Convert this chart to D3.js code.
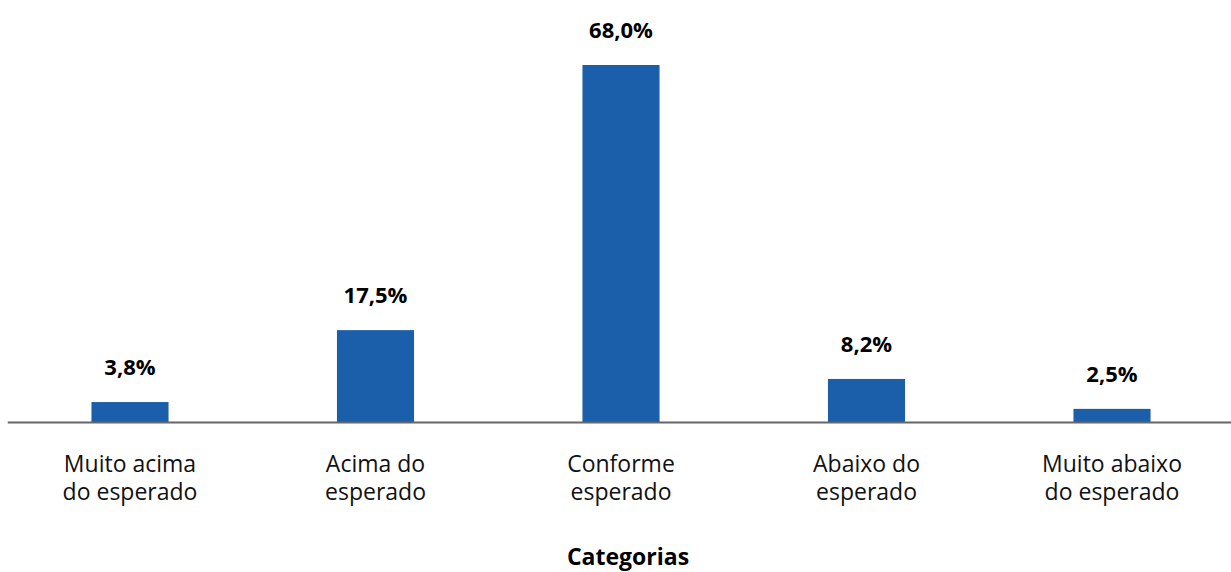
<!DOCTYPE html>
<html>
<head>
<meta charset="utf-8">
<script src="https://cdn.jsdelivr.net/npm/d3@7"></script>
<style>
  body { margin: 0; background: #fff; }
  text { font-family: "Open Sans", "Noto Sans", sans-serif; }
</style>
</head>
<body>
<div id="chart"></div>
<script>
// categories (two lines each) and percentages
const categories = ["Muito acima do esperado", "Acima do esperado", "Conforme esperado", "Abaixo do esperado", "Muito abaixo do esperado"];
const categoryLines = [["Muito acima", "do esperado"], ["Acima do", "esperado"], ["Conforme", "esperado"], ["Abaixo do", "esperado"], ["Muito abaixo", "do esperado"]];
const values = [3.8, 17.5, 68.0, 8.2, 2.5];
const valueLabels = ["3,8%", "17,5%", "68,0%", "8,2%", "2,5%"];
const axisTitle = "Categorias";

const width = 1231, height = 572;
const baseY = 422;

let svg = d3.select("#chart")
  .append("svg")
  .attr("width", width)
  .attr("height", height);

let x = d3.scaleBand()
  .domain(categories)
  .range([7.25, 1234.75])
  .paddingInner(0.686)
  .paddingOuter(0.343);

let y = d3.scaleLinear()
  .domain([0, 68])
  .range([baseY, 65]);

// bars
svg.selectAll("rect.bar")
  .data(values)
  .join("rect")
  .attr("class", "bar")
  .attr("x", (d, i) => x(categories[i]))
  .attr("y", d => y(d))
  .attr("width", x.bandwidth())
  .attr("height", d => baseY - y(d))
  .attr("fill", "#1b5faa");

// value labels
svg.selectAll("text.val")
  .data(values)
  .join("text")
  .attr("class", "val")
  .attr("x", (d, i) => x(categories[i]) + x.bandwidth() / 2)
  .attr("y", d => y(d) - 27)
  .attr("text-anchor", "middle")
  .attr("font-size", 22)
  .attr("font-weight", "bold")
  .attr("fill", "#000")
  .text((d, i) => valueLabels[i]);

// x axis
let xAxis = svg.append("g")
  .attr("transform", "translate(0," + baseY + ")")
  .call(d3.axisBottom(x).tickSize(0).tickSizeOuter(0));

xAxis.select(".domain").attr("stroke", "#666").attr("stroke-width", 2);

xAxis.selectAll(".tick text").each(function(d, i) {
  let t = d3.select(this).text(null)
    .attr("y", 0)
    .attr("dy", null)
    .attr("font-size", 23)
    .attr("fill", "#111");
  categoryLines[i].forEach((line, j) => {
    t.append("tspan")
      .attr("x", 0)
      .attr("y", 50 + j * 27.5)
      .text(line);
  });
});

// axis title
svg.append("text")
  .attr("x", 628)
  .attr("y", 565)
  .attr("text-anchor", "middle")
  .attr("font-size", 23)
  .attr("font-weight", "bold")
  .attr("fill", "#000")
  .text(axisTitle);
</script>
</body>
</html>
